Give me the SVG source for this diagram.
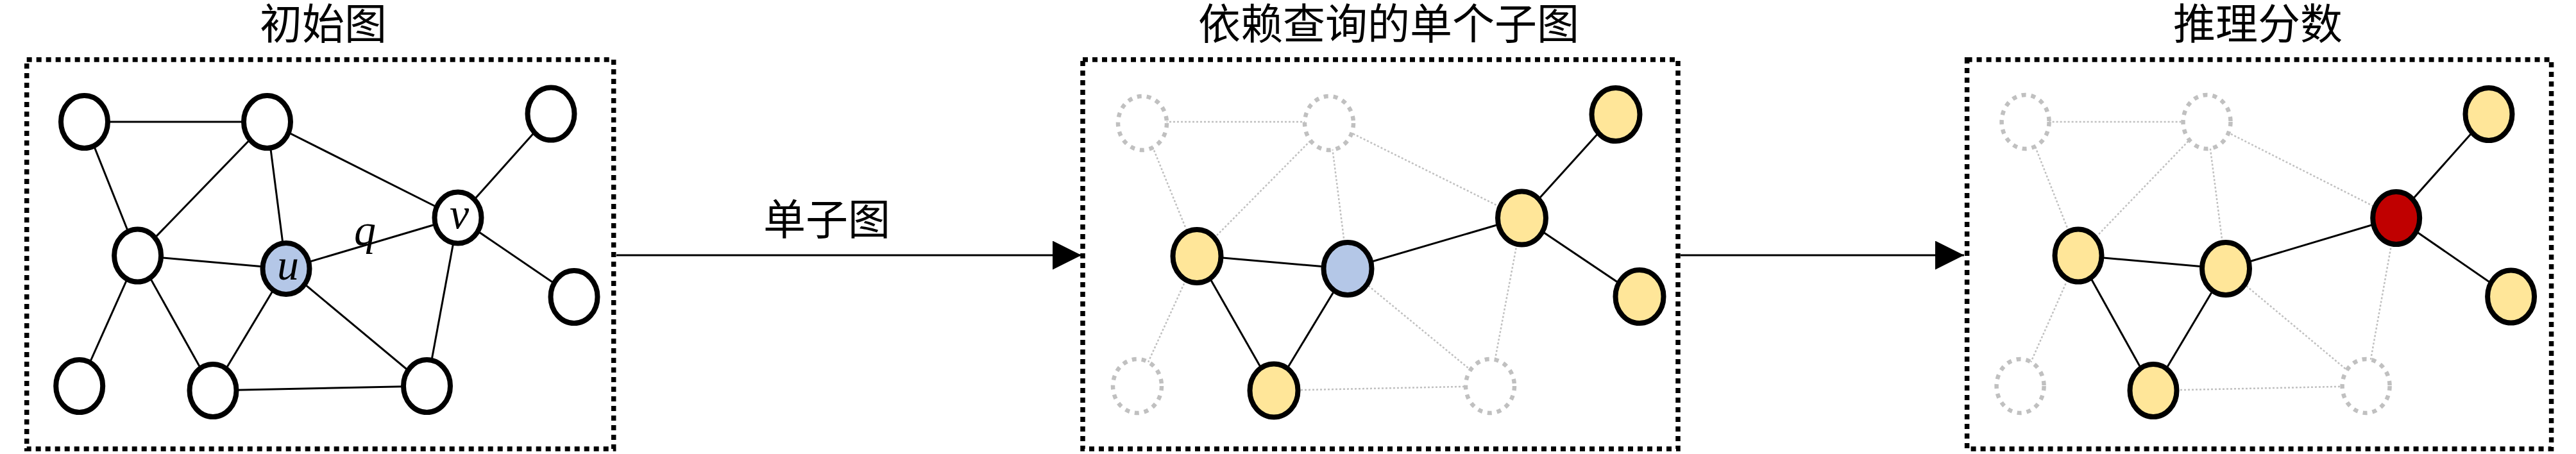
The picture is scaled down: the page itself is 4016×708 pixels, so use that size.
<svg xmlns="http://www.w3.org/2000/svg" width="4016" height="708" viewBox="0 0 4016 708">
<style>
.box{fill:none;stroke:#000;stroke-width:7.5;stroke-dasharray:8 7}
.e{stroke:#000;stroke-width:3;fill:none}
.d{stroke:#c0c0c0;stroke-width:2.5;stroke-dasharray:3 3;fill:none}
.n{stroke:#000;stroke-width:8}
.w{fill:#fff}
.b{fill:#b4c7e7}
.y{fill:#ffe699}
.r{fill:#c00000}
.g{fill:#fff;stroke:#c0c0c0;stroke-width:6.5;stroke-dasharray:7 8}
.t{font-family:"Liberation Serif","Noto Sans CJK SC","Noto Sans CJK TC",serif;font-size:66px;fill:#000;text-anchor:middle}
.m{font-family:"Liberation Serif","DejaVu Serif",serif;font-style:italic;font-size:68px;fill:#000;text-anchor:middle}
.a{stroke:#000;stroke-width:3;fill:none}
</style>
<defs>
<marker id="ah" viewBox="0 0 45 45" refX="45" refY="22.5" markerWidth="45" markerHeight="45" markerUnits="userSpaceOnUse" orient="auto">
<path d="M0,0 L45,22.5 L0,45 z" fill="#000"/>
</marker>
</defs>

<g id="titles">
<text class="t" x="504" y="61">初始图</text>
<text class="t" x="2165" y="61">依赖查询的单个子图</text>
<text class="t" x="3520" y="61">推理分数</text>
</g>

<g id="frames">
<rect class="box" x="41.7" y="93" width="915" height="607"/>
<rect class="box" x="1688" y="93" width="928" height="607"/>
<rect class="box" x="3066.6" y="93" width="911" height="607"/>
</g>

<g id="connectors">
<line class="a" x1="961" y1="398" x2="1686" y2="398" marker-end="url(#ah)"/>
<text class="t" x="1289" y="366">单子图</text>
<line class="a" x1="2620" y1="398" x2="3062" y2="398" marker-end="url(#ah)"/>

<g id="p1-edges">
<line class="e" x1="131.5" y1="190" x2="416.5" y2="190"/>
<line class="e" x1="131.5" y1="190" x2="214.6" y2="398.5"/>
<line class="e" x1="416.5" y1="190" x2="214.6" y2="398.5"/>
<line class="e" x1="416.5" y1="190" x2="446" y2="419"/>
<line class="e" x1="416.5" y1="190" x2="714" y2="339.5"/>
<line class="e" x1="214.6" y1="398.5" x2="446" y2="419"/>
<line class="e" x1="214.6" y1="398.5" x2="123.7" y2="602"/>
<line class="e" x1="214.6" y1="398.5" x2="332" y2="609"/>
<line class="e" x1="446" y1="419" x2="332" y2="609"/>
<line class="e" x1="446" y1="419" x2="714" y2="339.5"/>
<line class="e" x1="446" y1="419" x2="665.5" y2="602"/>
<line class="e" x1="714" y1="339.5" x2="859" y2="177.6"/>
<line class="e" x1="714" y1="339.5" x2="895" y2="463"/>
<line class="e" x1="714" y1="339.5" x2="665.5" y2="602"/>
<line class="e" x1="332" y1="609" x2="665.5" y2="602"/>
</g>

<g id="p2-edges">
<line class="d" x1="1781" y1="190" x2="2072" y2="190"/>
<line class="d" x1="1781" y1="190" x2="1866" y2="398.5"/>
<line class="d" x1="2072" y1="190" x2="1866" y2="398.5"/>
<line class="d" x1="2072" y1="190" x2="2101" y2="419"/>
<line class="d" x1="2072" y1="190" x2="2372.5" y2="339.5"/>
<line class="d" x1="1866" y1="398.5" x2="1773" y2="602"/>
<line class="d" x1="2101" y1="419" x2="2323" y2="602"/>
<line class="d" x1="2372.5" y1="339.5" x2="2323" y2="602"/>
<line class="d" x1="1986" y1="609" x2="2323" y2="602"/>
<line class="e" x1="1866" y1="398.5" x2="2101" y2="419"/>
<line class="e" x1="1866" y1="398.5" x2="1986" y2="609"/>
<line class="e" x1="2101" y1="419" x2="1986" y2="609"/>
<line class="e" x1="2101" y1="419" x2="2372.5" y2="339.5"/>
<line class="e" x1="2372.5" y1="339.5" x2="2519" y2="177.6"/>
<line class="e" x1="2372.5" y1="339.5" x2="2556" y2="463"/>
</g>

<g id="p3-edges">
<line class="d" x1="3157.6" y1="190" x2="3440.5" y2="190"/>
<line class="d" x1="3157.6" y1="190" x2="3240" y2="398.5"/>
<line class="d" x1="3440.5" y1="190" x2="3240" y2="398.5"/>
<line class="d" x1="3440.5" y1="190" x2="3470" y2="419"/>
<line class="d" x1="3440.5" y1="190" x2="3735.7" y2="339.5"/>
<line class="d" x1="3240" y1="398.5" x2="3149.6" y2="602"/>
<line class="d" x1="3470" y1="419" x2="3688.6" y2="602"/>
<line class="d" x1="3735.7" y1="339.5" x2="3688.6" y2="602"/>
<line class="d" x1="3357" y1="609" x2="3688.6" y2="602"/>
<line class="e" x1="3240" y1="398.5" x2="3470" y2="419"/>
<line class="e" x1="3240" y1="398.5" x2="3357" y2="609"/>
<line class="e" x1="3470" y1="419" x2="3357" y2="609"/>
<line class="e" x1="3470" y1="419" x2="3735.7" y2="339.5"/>
<line class="e" x1="3735.7" y1="339.5" x2="3880" y2="177.6"/>
<line class="e" x1="3735.7" y1="339.5" x2="3914.6" y2="463"/>
</g>
<text class="m" x="569" y="382">q</text>
</g>

<g id="p1-nodes">
<g id="p1-a"><ellipse class="n w" cx="131.5" cy="190" rx="36.5" ry="41"/></g>
<g id="p1-b"><ellipse class="n w" cx="416.5" cy="190" rx="36.5" ry="41"/></g>
<g id="p1-c"><ellipse class="n w" cx="214.6" cy="398.5" rx="36.5" ry="41"/></g>
<g id="p1-u"><ellipse class="n b" cx="446" cy="419" rx="36.5" ry="40"/><text class="m" x="449" y="436">u</text></g>
<g id="p1-d"><ellipse class="n w" cx="123.7" cy="602" rx="36.5" ry="41"/></g>
<g id="p1-e"><ellipse class="n w" cx="332" cy="609" rx="36.5" ry="41"/></g>
<g id="p1-v"><ellipse class="n w" cx="714" cy="339.5" rx="36.5" ry="40"/><text class="m" x="716" y="356">v</text></g>
<g id="p1-f"><ellipse class="n w" cx="859" cy="177.6" rx="36.5" ry="41"/></g>
<g id="p1-g"><ellipse class="n w" cx="895" cy="463" rx="36.5" ry="41"/></g>
<g id="p1-h"><ellipse class="n w" cx="665.5" cy="602" rx="36.5" ry="41"/></g>
</g>

<g id="p2-nodes">
<g id="p2-a"><ellipse class="g" cx="1781" cy="192" rx="38" ry="42"/></g>
<g id="p2-b"><ellipse class="g" cx="2072" cy="192" rx="38" ry="42"/></g>
<g id="p2-c"><ellipse class="n y" cx="1866" cy="399.5" rx="37.5" ry="41.5"/></g>
<g id="p2-u"><ellipse class="n b" cx="2101" cy="419" rx="37.5" ry="41"/></g>
<g id="p2-d"><ellipse class="g" cx="1773" cy="602" rx="38" ry="42"/></g>
<g id="p2-e"><ellipse class="n y" cx="1986" cy="609" rx="37.5" ry="41.5"/></g>
<g id="p2-v"><ellipse class="n y" cx="2372.5" cy="340" rx="37.5" ry="41.5"/></g>
<g id="p2-f"><ellipse class="n y" cx="2519" cy="178.6" rx="37.5" ry="41.5"/></g>
<g id="p2-g"><ellipse class="n y" cx="2556" cy="462.5" rx="37.5" ry="41.5"/></g>
<g id="p2-h"><ellipse class="g" cx="2323" cy="602" rx="38" ry="42"/></g>
</g>

<g id="p3-nodes">
<g id="p3-a"><ellipse class="g" cx="3157.6" cy="190" rx="37" ry="42"/></g>
<g id="p3-b"><ellipse class="g" cx="3440.5" cy="190" rx="37" ry="42"/></g>
<g id="p3-c"><ellipse class="n y" cx="3240" cy="398.5" rx="36.5" ry="41"/></g>
<g id="p3-u"><ellipse class="n y" cx="3470" cy="419" rx="37" ry="41"/></g>
<g id="p3-d"><ellipse class="g" cx="3149.6" cy="602" rx="37" ry="42"/></g>
<g id="p3-e"><ellipse class="n y" cx="3357" cy="609" rx="36.5" ry="41"/></g>
<g id="p3-v"><ellipse class="n r" cx="3735.7" cy="340" rx="36.5" ry="41"/></g>
<g id="p3-f"><ellipse class="n y" cx="3880" cy="178" rx="36.5" ry="41"/></g>
<g id="p3-g"><ellipse class="n y" cx="3914.6" cy="462.5" rx="36.5" ry="41"/></g>
<g id="p3-h"><ellipse class="g" cx="3688.6" cy="602" rx="37" ry="42"/></g>
</g>
</svg>
